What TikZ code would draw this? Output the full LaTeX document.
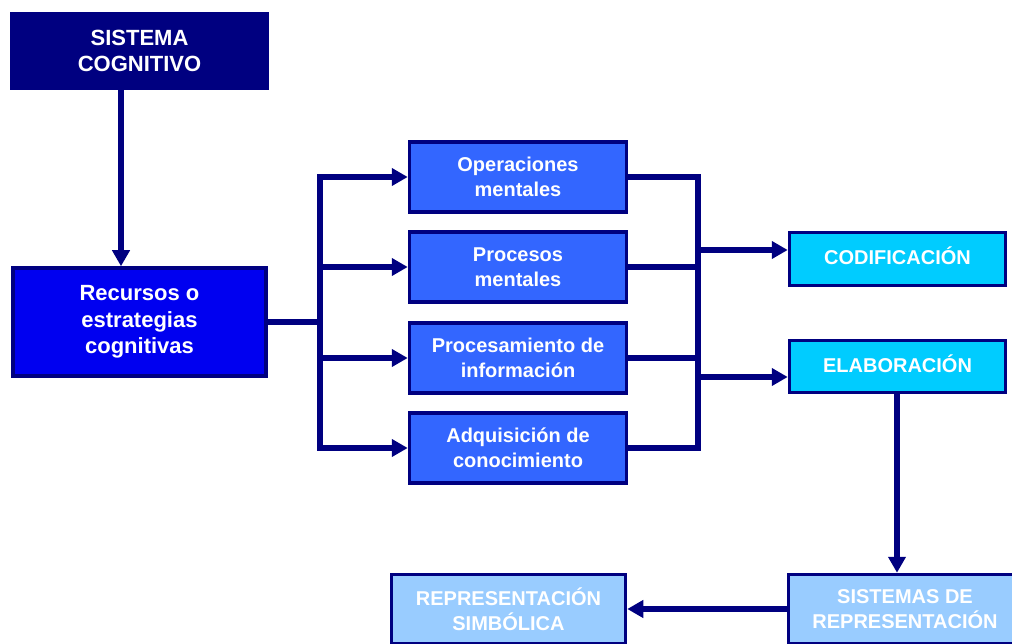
\documentclass[tikz,border=0pt]{standalone}
\usepackage{fontspec}
\setmainfont{Liberation Sans}
\usetikzlibrary{arrows.meta}
\definecolor{navy}{RGB}{0,0,128}
\definecolor{deepblue}{RGB}{0,0,240}
\definecolor{midblue}{RGB}{51,102,255}
\definecolor{cyanbox}{RGB}{0,204,255}
\definecolor{paleblue}{RGB}{153,204,255}
\tikzset{
  box/.style={draw=navy, line width=3.5pt, text=white, align=center,
    font=\fontsize{20}{25}\selectfont\bfseries, inner sep=0pt},
  bigbox/.style={box, font=\fontsize{22}{26.5}\selectfont\bfseries},
  wire/.style={draw=navy, line width=5.5pt},
  arr/.style={wire, -{Triangle[length=16pt,width=17pt]}},
}
\begin{document}
\begin{tikzpicture}[x=1pt,y=-1pt]
\clip (0,0) rectangle (1012,644);
\fill[white] (0,0) rectangle (1012,644);

% boxes
\node[bigbox, fill=navy, minimum width=255, minimum height=74] (sc) at (139.5,51) {SISTEMA\\COGNITIVO};
\node[bigbox, fill=deepblue, minimum width=253, minimum height=108] (rec) at (139.5,322) {Recursos o\\estrategias\\cognitivas};
\node[box, fill=midblue, minimum width=217, minimum height=70] (op) at (518,177) {Operaciones\\mentales};
\node[box, fill=midblue, minimum width=217, minimum height=70] (pm) at (518,267) {Procesos\\mentales};
\node[box, fill=midblue, minimum width=217, minimum height=70] (pi) at (518,358) {Procesamiento de\\información};
\node[box, fill=midblue, minimum width=217, minimum height=70] (ac) at (518,448) {Adquisición de\\conocimiento};
\node[box, fill=cyanbox, minimum width=216, minimum height=53, text height=14.5pt, text depth=4pt] (cod) at (897.5,259) {CODIFICACIÓN};
\node[box, fill=cyanbox, minimum width=216, minimum height=52, text height=14.5pt, text depth=2pt] (ela) at (897.5,366.5) {ELABORACIÓN};
\node[box, fill=paleblue, minimum width=233, minimum height=69] (sdr) at (905,609) {SISTEMAS DE\\REPRESENTACIÓN};
\node[box, fill=paleblue, minimum width=234, minimum height=69] (rs) at (508.5,609) {REPRESENTACIÓN\\SIMBÓLICA};

% guide positions for the connectors
\coordinate (xa) at (121,0);
\coordinate (tl) at (320,0);
\coordinate (tr) at (698,0);
\coordinate (ya) at (0,250);
\coordinate (yb) at (0,377);
\coordinate (xe) at (897,0);

% connectors
\draw[arr] (xa |- sc.south) -- (xa |- rec.north);
\draw[wire] (rec.east) -- (tl |- rec.east);
\draw[wire, line cap=rect] (tl |- op.west) -- (tl |- ac.west);
\draw[arr] (tl |- op.west) -- (op.west);
\draw[arr] (tl |- pm.west) -- (pm.west);
\draw[arr] (tl |- pi.west) -- (pi.west);
\draw[arr] (tl |- ac.west) -- (ac.west);
\draw[wire, line join=miter] (op.east) -- (tr |- op.east) -- (tr |- ac.east) -- (ac.east);
\draw[wire] (pm.east) -- (tr |- pm.east);
\draw[wire] (pi.east) -- (tr |- pi.east);
\draw[arr] (tr |- ya) -- (cod.west |- ya);
\draw[arr] (tr |- yb) -- (ela.west |- yb);
\draw[arr] (xe |- ela.south) -- (xe |- sdr.north);
\draw[arr] (sdr.west) -- (rs.east);
\end{tikzpicture}
\end{document}
